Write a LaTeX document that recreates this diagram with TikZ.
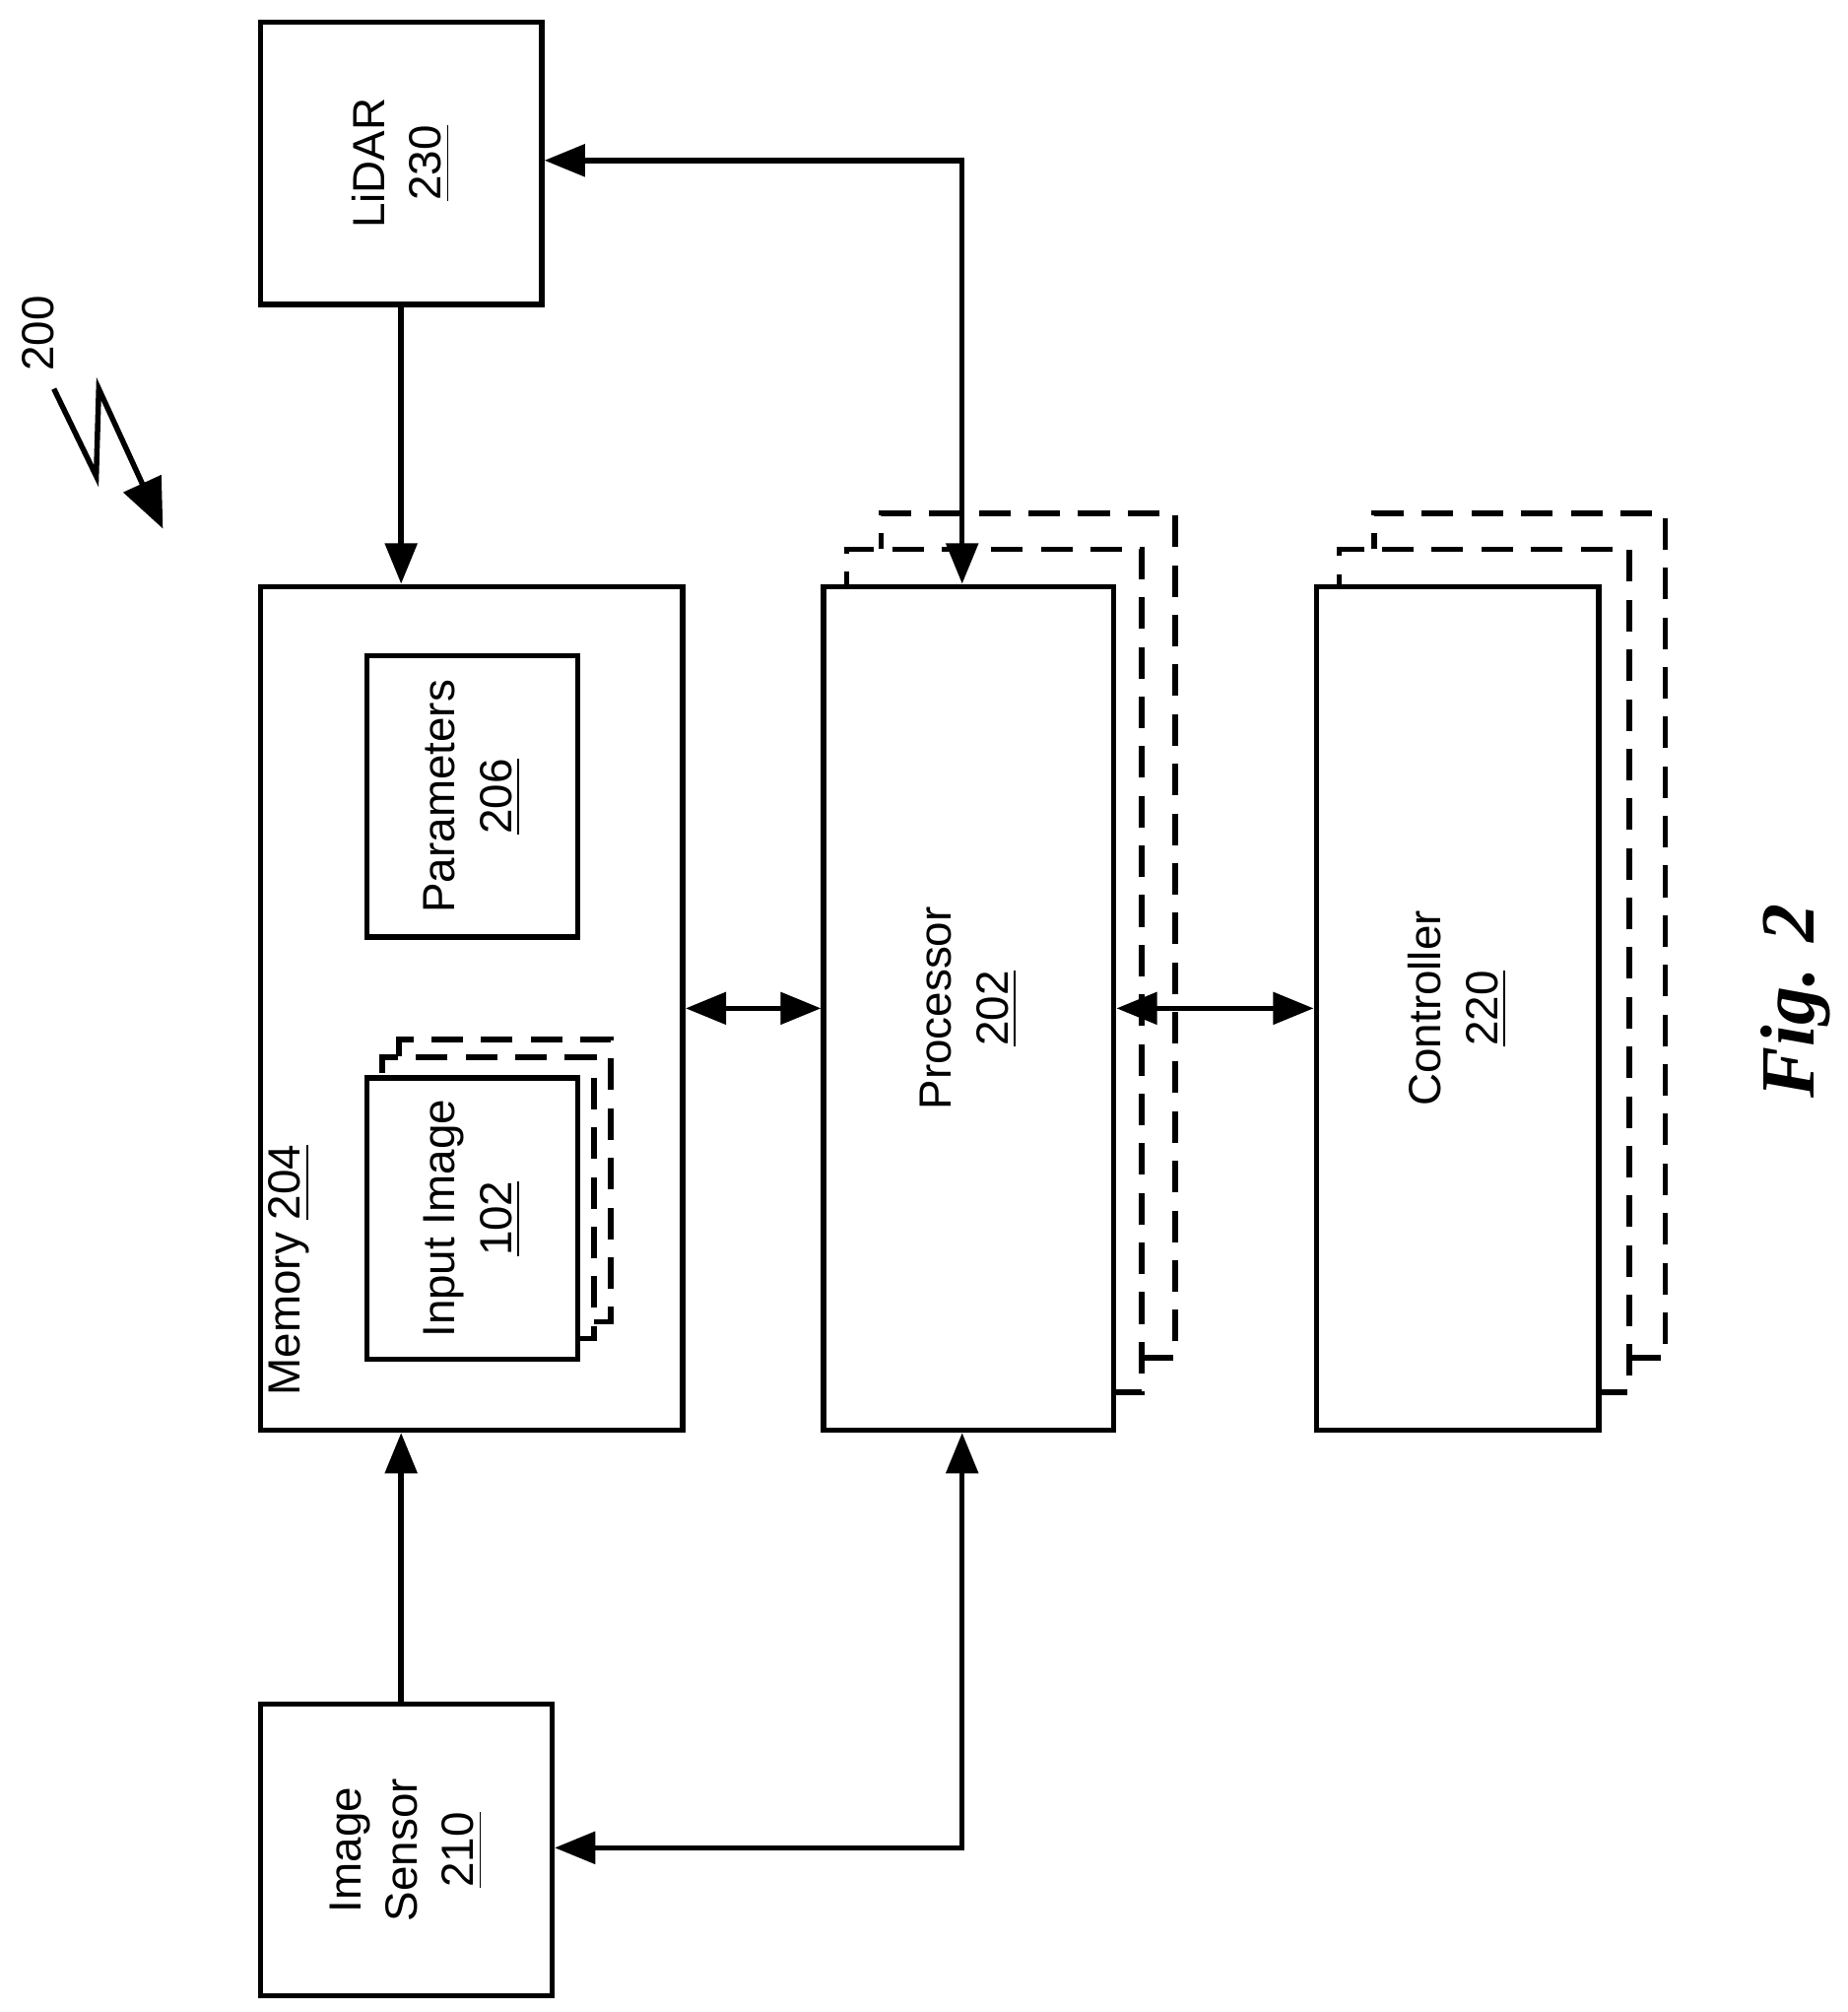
\documentclass[tikz,border=0pt]{standalone}
\usepackage{fontspec}
\setmainfont{Liberation Sans}
\newfontfamily\figfont{Liberation Serif}
\usetikzlibrary{arrows.meta}
\begin{document}
\begin{tikzpicture}[x=0.01cm,y=-0.01cm,
  box/.style={draw,line width=1.2pt,anchor=north west,inner sep=0},
  dbox/.style={draw,line width=1.2pt,dash pattern=on 7pt off 4pt},
  lab/.style={rotate=90,font=\fontsize{10}{12.5}\selectfont,align=center},
  arr/.style={line width=1.2pt,-{Triangle[length=9pt,width=7pt]}},
  darr/.style={line width=1.2pt,{Triangle[length=9pt,width=7pt]}-{Triangle[length=9pt,width=7pt]}}]
\useasboundingbox (0,0) rectangle (1440,1568);
% processor dashed stack
\draw[dbox] (866,1085) -- (890,1085) -- (890,428) -- (660,428) -- (660,455);
\draw[dbox] (890,1058) -- (916,1058) -- (916,400) -- (687,400) -- (687,428);
% controller dashed stack
\draw[dbox] (1244,1085) -- (1270,1085) -- (1270,428) -- (1044,428) -- (1044,455);
\draw[dbox] (1270,1058) -- (1298,1058) -- (1298,400) -- (1071,400) -- (1071,428);
% input image dashed
\draw[dbox] (448,1043) -- (463,1043) -- (463,824) -- (298,824) -- (298,838);
\draw[dbox] (463,1030) -- (476,1030) -- (476,810) -- (311,810) -- (311,824);

\node[box,minimum width=2.19cm,minimum height=2.2cm] (lidar) at (201,15) {};
\node[lab] at (lidar.center) {LiDAR\\\underline{230}};
\node[box,minimum width=3.29cm,minimum height=6.57cm] (mem) at (201,455) {};
\node[lab,anchor=south west] at (254,1100) {Memory \underline{204}};
\node[box,fill=white,minimum width=1.64cm,minimum height=2.19cm] (par) at (284,509) {};
\node[lab] at (par.center) {Parameters\\\underline{206}};
\node[box,fill=white,minimum width=1.64cm,minimum height=2.19cm] (inp) at (284,838) {};
\node[lab] at (inp.center) {Input Image\\\underline{102}};
\node[box,fill=white,minimum width=2.26cm,minimum height=6.57cm] (proc) at (640,455) {};
\node[lab] at (proc.center) {Processor\\\underline{202}};
\node[box,fill=white,minimum width=2.2cm,minimum height=6.57cm] (ctrl) at (1024,455) {};
\node[lab] at (ctrl.center) {Controller\\\underline{220}};
\node[box,minimum width=2.27cm,minimum height=2.27cm] (sens) at (201,1326) {};
\node[lab] at (sens.center) {Image\\Sensor\\\underline{210}};

\draw[arr] (lidar.south) -- (mem.north -| lidar.south);
\draw[arr] (sens.north -| lidar.south) -- (mem.south -| lidar.south);
\draw[darr] (mem.east) -- (proc.west);
\draw[darr] (proc.east) -- (ctrl.west);
\coordinate (c1) at (750,125);
\coordinate (c2) at (750,1440);
\draw[darr] (lidar.east |- c1) -- (c1) -- (proc.north -| c1);
\draw[darr] (sens.east |- c2) -- (c2) -- (proc.south -| c2);

\node[lab] (n200) at (30,260) {200};
\draw[line width=1.2pt,-{Triangle[length=11pt,width=9pt]}] (42,303) -- (75,371) -- (77,303) -- (127,412);
\node[rotate=90,font=\figfont\bfseries\itshape\fontsize{17}{20}\selectfont] (fig) at (1400,780) {Fig. 2};
\end{tikzpicture}
\end{document}
